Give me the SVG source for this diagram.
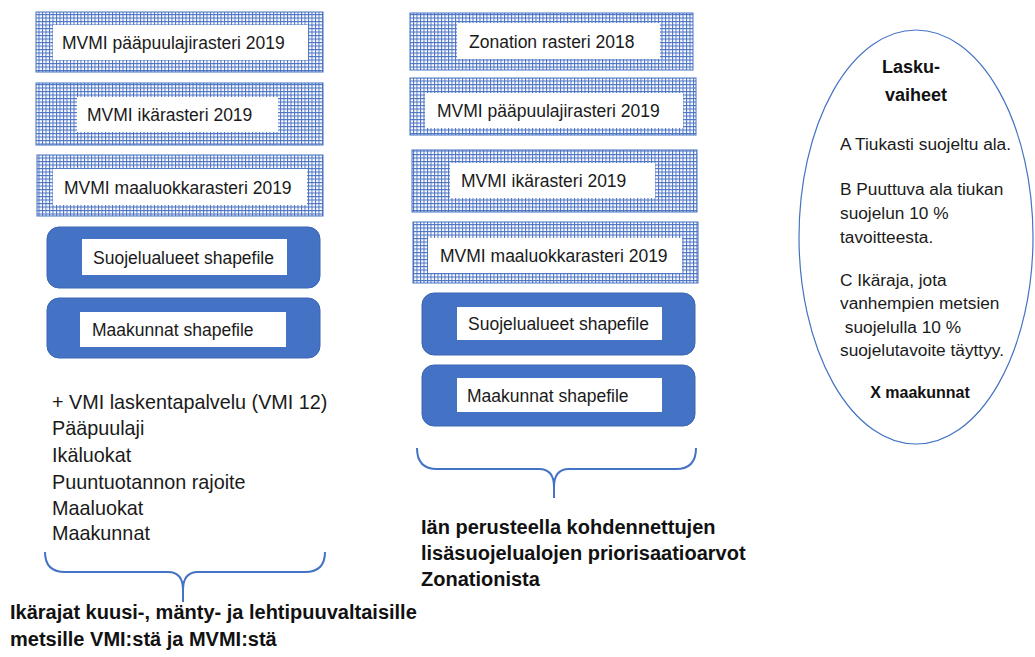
<svg xmlns="http://www.w3.org/2000/svg" width="1035" height="657" viewBox="0 0 1035 657">
<defs>
<pattern id="grid" width="3.5" height="3.5" patternUnits="userSpaceOnUse">
<rect width="3.5" height="3.5" fill="#ffffff"/>
<path d="M0 0.5H3.5M0.5 0V3.5" stroke="#4a72c4" stroke-width="1"/>
</pattern>
<style>
.hatch{fill:url(#grid);stroke:#4472c4;stroke-width:1}
.solid{fill:#4472c4;stroke:#3b66b3;stroke-width:1}
.inner{fill:#ffffff}
.t{font-family:"Liberation Sans",Arial,sans-serif;font-size:17.5px;fill:#1a1a1a}
.list{font-family:"Liberation Sans",Arial,sans-serif;font-size:19.8px;fill:#1a1a1a}
.bold{font-family:"Liberation Sans",Arial,sans-serif;font-size:20px;font-weight:bold;fill:#111}
.hb{font-family:"Liberation Sans",Arial,sans-serif;font-size:18px;font-weight:bold;fill:#111}
.e{font-family:"Liberation Sans",Arial,sans-serif;font-size:17.3px;fill:#1a1a1a}
.eb{font-family:"Liberation Sans",Arial,sans-serif;font-size:16px;font-weight:bold;fill:#111}
.brace{fill:none;stroke:#4472c4;stroke-width:2}
</style>
</defs>
<rect width="1035" height="657" fill="#ffffff"/>

<g id="left-pääpuulaji">
<rect class="hatch" x="36" y="12" width="287" height="60"/>
<rect class="inner" x="53" y="25" width="255" height="35"/>
<text class="t" x="62" y="49">MVMI pääpuulajirasteri 2019</text>
</g>
<g id="left-ikä">
<rect class="hatch" x="36" y="83" width="287" height="62"/>
<rect class="inner" x="77" y="97" width="201" height="35"/>
<text class="t" x="87" y="121">MVMI ikärasteri 2019</text>
</g>
<g id="left-maaluokka">
<rect class="hatch" x="37" y="155" width="286" height="61"/>
<rect class="inner" x="53" y="169" width="254" height="36"/>
<text class="t" x="64" y="194">MVMI maaluokkarasteri 2019</text>
</g>
<g id="left-suojelualueet">
<rect class="solid" x="47" y="227" width="273" height="61" rx="12"/>
<rect class="inner" x="82" y="239" width="205" height="36"/>
<text class="t" x="93" y="264">Suojelualueet shapefile</text>
</g>
<g id="left-maakunnat">
<rect class="solid" x="47" y="298" width="273" height="60" rx="12"/>
<rect class="inner" x="80" y="312" width="206" height="35"/>
<text class="t" x="92" y="336">Maakunnat shapefile</text>
</g>

<g id="mid-zonation">
<rect class="hatch" x="410" y="13" width="283" height="57"/>
<rect class="inner" x="457" y="23" width="203" height="36"/>
<text class="t" x="469" y="48">Zonation rasteri 2018</text>
</g>
<g id="mid-pääpuulaji">
<rect class="hatch" x="410" y="78" width="286" height="57"/>
<rect class="inner" x="425" y="93" width="258" height="35"/>
<text class="t" x="437" y="117">MVMI pääpuulajirasteri 2019</text>
</g>
<g id="mid-ikä">
<rect class="hatch" x="412" y="150" width="285" height="62"/>
<rect class="inner" x="450" y="163" width="205" height="35"/>
<text class="t" x="461" y="187">MVMI ikärasteri 2019</text>
</g>
<g id="mid-maaluokka">
<rect class="hatch" x="413" y="222" width="285" height="61"/>
<rect class="inner" x="428" y="238" width="254" height="35"/>
<text class="t" x="440" y="262">MVMI maaluokkarasteri 2019</text>
</g>
<g id="mid-suojelualueet">
<rect class="solid" x="422" y="293" width="273" height="62" rx="12"/>
<rect class="inner" x="457" y="307" width="205" height="33"/>
<text class="t" x="468" y="330">Suojelualueet shapefile</text>
</g>
<g id="mid-maakunnat">
<rect class="solid" x="422" y="365" width="273" height="61" rx="12"/>
<rect class="inner" x="457" y="378" width="205" height="34"/>
<text class="t" x="467" y="402">Maakunnat shapefile</text>
</g>

<g id="laskuvaiheet">
<ellipse cx="916" cy="237" rx="117" ry="207" fill="#ffffff" stroke="#4472c4" stroke-width="1.2"/>
<text class="hb" x="911" y="73" text-anchor="middle">Lasku-</text>
<text class="hb" x="916" y="101" text-anchor="middle">vaiheet</text>
<text class="e" x="840" y="150">A Tiukasti suojeltu ala.</text>
<text class="e" x="840" y="195">B Puuttuva ala tiukan</text>
<text class="e" x="840" y="219">suojelun 10 %</text>
<text class="e" x="840" y="243">tavoitteesta.</text>
<text class="e" x="840" y="286">C Ikäraja, jota</text>
<text class="e" x="840" y="309">vanhempien metsien</text>
<text class="e" x="840" y="333" xml:space="preserve"> suojelulla 10 %</text>
<text class="e" x="840" y="356">suojelutavoite täyttyy.</text>
<text class="eb" x="920" y="398" text-anchor="middle">X maakunnat</text>
</g>

<g id="left-list">
<text class="list" x="52" y="409">+ VMI laskentapalvelu (VMI 12)</text>
<text class="list" x="52" y="435">Pääpuulaji</text>
<text class="list" x="52" y="462">Ikäluokat</text>
<text class="list" x="52" y="489">Puuntuotannon rajoite</text>
<text class="list" x="52" y="515">Maaluokat</text>
<text class="list" x="52" y="540">Maakunnat</text>
</g>

<g id="connectors">
<path class="brace" d="M45 552 Q45 572 65 572 H168 Q183 572 183 590 V602 M183 590 Q183 572 198 572 H305 Q325 572 325 552"/>
<path class="brace" d="M417 448 Q417 469 437 469 H539 Q554 469 554 487 V498 M554 487 Q554 469 569 469 H676 Q696 469 696 448"/>
</g>

<g id="left-result">
<text class="bold" x="10" y="619">Ikärajat kuusi-, mänty- ja lehtipuuvaltaisille</text>
<text class="bold" x="10" y="646">metsille VMI:stä ja MVMI:stä</text>
</g>
<g id="mid-result">
<text class="bold" x="421" y="534">Iän perusteella kohdennettujen</text>
<text class="bold" x="421" y="560">lisäsuojelualojen priorisaatioarvot</text>
<text class="bold" x="421" y="586">Zonationista</text>
</g>
</svg>
